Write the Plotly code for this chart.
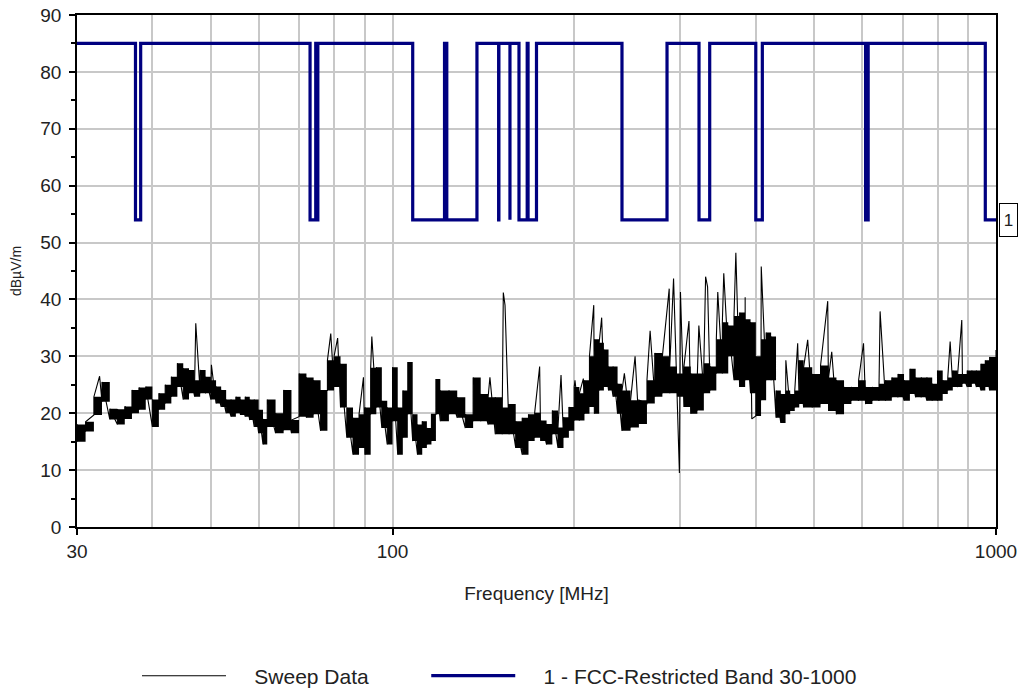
import math
import plotly.graph_objects as go

# ---------------- data ----------------
# Sweep envelope: frequency [MHz], upper and lower level [dBuV/m] of the noisy trace
sweep_freq = [30, 31, 32, 33, 34, 35, 36, 37, 38, 39, 40, 41, 42, 43, 44, 45, 46, 47, 48, 49,
              50, 51, 52, 53, 54, 55, 56, 57, 58, 59, 60, 61, 62, 64, 66, 68, 70, 72, 74, 76,
              78, 80, 82, 84, 86, 88, 90, 92, 94, 96, 98, 100, 102, 104, 106, 108, 110, 112, 114, 116,
              118, 120, 124, 128, 132, 136, 140, 144, 148, 152, 156, 160, 164, 168, 172, 176, 180, 184, 188, 192,
              196, 200, 204, 208, 212, 216, 220, 224, 228, 232, 236, 240, 248, 256, 264, 272, 280, 288, 296, 304,
              312, 320, 328, 336, 344, 352, 360, 368, 376, 384, 392, 400, 408, 416, 424, 432, 440, 448, 456, 464,
              472, 480, 496, 512, 528, 544, 560, 576, 592, 608, 624, 640, 656, 672, 688, 704, 720, 736, 752, 768,
              784, 800, 816, 832, 848, 864, 880, 896, 912, 928, 944, 960, 976, 1000]
sweep_hi = [18.0, 18.5, 22.9, 25.5, 20.8, 20.7, 21.2, 24.1, 24.5, 24.7, 22.4, 23.5, 25.0, 26.4, 28.8, 27.9, 27.6, 25.8, 27.6, 26.4,
            25.8, 24.7, 24.1, 22.4, 22.4, 22.9, 22.4, 22.9, 22.4, 22.4, 20.6, 19.0, 22.4, 20.0, 24.1, 18.8, 27.0, 26.3, 25.8, 24.0,
            29.3, 30.0, 28.7, 21.0, 19.2, 19.8, 21.0, 28.0, 28.1, 22.2, 21.0, 28.1, 21.0, 24.0, 29.0, 19.8, 18.0, 18.6, 17.4, 19.8,
            26.0, 24.0, 24.0, 22.8, 19.8, 26.3, 23.4, 22.8, 22.8, 21.0, 21.6, 18.6, 19.2, 19.8, 20.1, 18.7, 18.1, 20.5, 17.5, 19.3,
            21.1, 24.6, 23.5, 25.8, 30.0, 33.0, 32.4, 31.2, 28.2, 28.2, 25.2, 24.0, 22.3, 22.3, 25.8, 30.6, 30.0, 28.2, 27.0, 28.2,
            27.0, 27.0, 28.8, 28.2, 33.0, 36.0, 35.4, 37.1, 37.7, 36.5, 36.0, 30.0, 33.0, 34.2, 33.5, 24.0, 23.4, 24.0, 23.4, 24.0,
            29.3, 28.1, 26.9, 28.4, 26.3, 25.8, 24.6, 24.6, 25.8, 24.6, 24.6, 25.2, 25.8, 26.3, 26.9, 25.8, 27.8, 26.3, 26.3, 26.3,
            25.2, 27.5, 25.8, 26.3, 27.5, 26.9, 26.9, 27.5, 27.5, 27.5, 28.7, 29.3, 29.9, 31.1]
sweep_lo = [15.0, 16.8, 19.7, 22.0, 18.9, 18.0, 19.0, 20.0, 20.6, 22.4, 17.6, 20.6, 21.7, 22.9, 24.6, 22.4, 23.5, 22.9, 23.5, 23.5,
            22.4, 21.7, 21.1, 20.0, 19.4, 20.0, 19.7, 19.4, 18.8, 17.6, 16.5, 14.5, 17.6, 16.5, 17.0, 16.5, 19.4, 19.2, 19.8, 16.9,
            24.0, 24.6, 21.0, 15.7, 12.7, 13.9, 12.7, 19.8, 21.0, 17.4, 14.5, 18.6, 12.7, 15.7, 19.8, 15.1, 12.7, 13.9, 14.5, 15.1,
            19.8, 18.6, 19.8, 19.2, 17.4, 18.6, 18.6, 18.0, 16.3, 16.3, 16.3, 13.9, 12.7, 15.1, 15.7, 15.1, 14.5, 16.3, 13.9, 15.7,
            16.9, 18.7, 18.7, 19.9, 21.1, 19.9, 24.0, 24.6, 24.0, 22.9, 19.9, 16.9, 17.5, 18.1, 21.7, 22.9, 23.5, 23.5, 22.9, 21.1,
            19.9, 20.5, 23.5, 24.0, 27.0, 27.0, 30.0, 25.8, 24.6, 25.8, 23.5, 19.5, 22.3, 25.8, 25.8, 19.2, 18.3, 19.8, 20.4, 21.0,
            21.6, 21.0, 21.0, 21.6, 20.4, 19.8, 21.6, 22.2, 22.2, 21.6, 22.2, 22.2, 22.2, 22.8, 22.8, 22.2, 23.4, 22.8, 22.8, 22.2,
            22.2, 22.2, 23.4, 24.0, 24.6, 24.6, 25.2, 24.6, 25.2, 24.6, 24.0, 24.6, 24.0, 24.6]

# Isolated spikes / dips in the sweep
spike_freq = [32.7, 47.2, 50.1, 79.0, 81.1, 89.5, 92.4, 145.0, 152.6, 153.6, 175.3, 190.2, 200.6, 207.1,
              215.5, 222.1, 242.2, 252.3, 267.2, 287.4, 292.2, 298.8, 300.0, 309.9, 321.8, 330.2, 332.7,
              345.9, 353.9, 370.6, 384.0, 393.9, 408.3, 448.5, 469.2, 487.5, 526.2, 534.3, 603.2, 642.6,
              646.8, 839.5, 877.6]
spike_level = [26.5, 35.8, 28.5, 34.0, 33.2, 26.3, 33.5, 26.3, 41.2, 39.0, 28.2, 26.7, 25.8, 26.1,
               39.0, 36.8, 27.0, 30.0, 34.5, 41.9, 43.7, 9.5, 41.3, 36.2, 35.4, 44.0, 42.2,
               41.3, 44.6, 48.2, 40.4, 19.0, 45.8, 29.3, 32.3, 32.9, 39.7, 30.8, 32.3, 37.9,
               32.9, 32.6, 36.4]

# FCC restricted bands (MHz) and limit levels
band_start = [37.5, 73.0, 74.8, 108.0, 123.0, 149.9, 156.52475, 156.7, 162.0125, 167.72, 240.0, 322.0, 399.9, 608.0, 960.0]
band_stop = [38.25, 74.6, 75.2, 121.94, 138.0, 150.05, 156.52525, 156.9, 167.17, 173.2, 285.0, 335.4, 410.0, 614.0, 1240.0]
limit_open = 85
limit_restricted = 54
f_min, f_max = 30, 1000

y_ticks = [0, 10, 20, 30, 40, 50, 60, 70, 80, 90]
x_labels = [30, 100, 1000]
x_grid = [40, 50, 60, 70, 80, 90, 200, 300, 400, 500, 600, 700, 800, 900]

NB = "\u00a0"
sweep_name = NB * 4 + "Sweep Data" + NB * 9
limit_name = NB * 4 + "1 - FCC-Restricted Band 30-1000"

# ---------------- build traces ----------------
pts = []
for i, f in enumerate(sweep_freq):
    pts.append((f, 0, sweep_lo[i]))
    pts.append((f, 1, sweep_hi[i]))
for f, v in zip(spike_freq, spike_level):
    pts.append((f, 0.5, v))
pts.sort(key=lambda p: (p[0], p[1]))
sx = [p[0] for p in pts]
sy = [p[2] for p in pts]

lx, ly = [f_min], [limit_open]
for a, b in zip(band_start, band_stop):
    lx += [a, a]
    ly += [limit_open, limit_restricted]
    if b < f_max:
        lx += [b, b]
        ly += [limit_restricted, limit_open]
    else:
        lx.append(f_max)
        ly.append(limit_restricted)

fig = go.Figure()
# dense noise band of the sweep (envelope)
fig.add_trace(go.Scatter(x=sweep_freq, y=sweep_lo, mode="lines", line=dict(width=0, color="black", shape="hv"),
                         showlegend=False, hoverinfo="skip"))
fig.add_trace(go.Scatter(x=sweep_freq, y=sweep_hi, mode="lines", line=dict(width=0, color="black", shape="hv"),
                         fill="tonexty", fillcolor="black", showlegend=False, hoverinfo="skip"))
fig.add_trace(go.Scatter(x=sx, y=sy, mode="lines", name=sweep_name,
                         line=dict(color="black", width=1.1)))
fig.add_trace(go.Scatter(x=lx, y=ly, mode="lines", name=limit_name,
                         line=dict(color="#000080", width=3.2)))

W, H = 1023, 694
grid_col = "#c8c8c8"
fig.update_layout(
    width=W, height=H,
    margin=dict(l=77, r=27, t=15, b=167),
    paper_bgcolor="white", plot_bgcolor="white",
    font=dict(family="Liberation Sans, Arial, sans-serif", size=19, color="#222222"),
    showlegend=True,
    legend=dict(orientation="h", xref="container", yref="container",
                x=0.1339, xanchor="left", y=0.0259, yanchor="middle",
                traceorder="normal", font=dict(size=21), itemwidth=84),
)
fig.update_xaxes(
    type="log", range=[math.log10(f_min), math.log10(f_max)], automargin=False,
    tickmode="array", tickvals=x_labels, ticktext=[str(v) for v in x_labels],
    ticks="outside", ticklen=6, tickwidth=1.5, tickcolor="black", ticklabeloverflow="allow",
    showline=True, linecolor="black", linewidth=1.5, mirror=True,
    showgrid=True, gridcolor=grid_col, gridwidth=1.5, zeroline=False,
    minor=dict(tickmode="array", tickvals=x_grid, showgrid=True, gridcolor=grid_col, gridwidth=1.5, ticks=""),
    title=dict(text="Frequency [MHz]", font=dict(size=19), standoff=26),
)
fig.update_yaxes(
    range=[0, 90], tickmode="array", tickvals=y_ticks, automargin=False,
    ticks="outside", ticklen=6, tickwidth=1.5, tickcolor="black", ticklabelstandoff=4,
    ticklabeloverflow="allow",
    showline=True, linecolor="black", linewidth=1.5, mirror=True,
    showgrid=True, gridcolor=grid_col, gridwidth=1.5, zeroline=False,
    minor=dict(dtick=5, ticks="outside", ticklen=4, tickcolor="black", showgrid=False),
    title=dict(text="dBµV/m", font=dict(size=14), standoff=15),
)
fig.add_annotation(x=math.log10(f_max), y=limit_restricted, xref="x", yref="y",
                   text="1", showarrow=False, xanchor="left", yanchor="middle", xshift=3,
                   bordercolor="black", borderwidth=1, borderpad=2, bgcolor="white",
                   width=13, height=28, font=dict(size=17, color="#222222"))

# remove the default 8px page margin so the 1023x694 figure fills the window exactly
fig.write_html("out.html", config={"displayModeBar": False},
               post_script="document.body.style.margin='0';document.body.style.overflow='hidden';")
